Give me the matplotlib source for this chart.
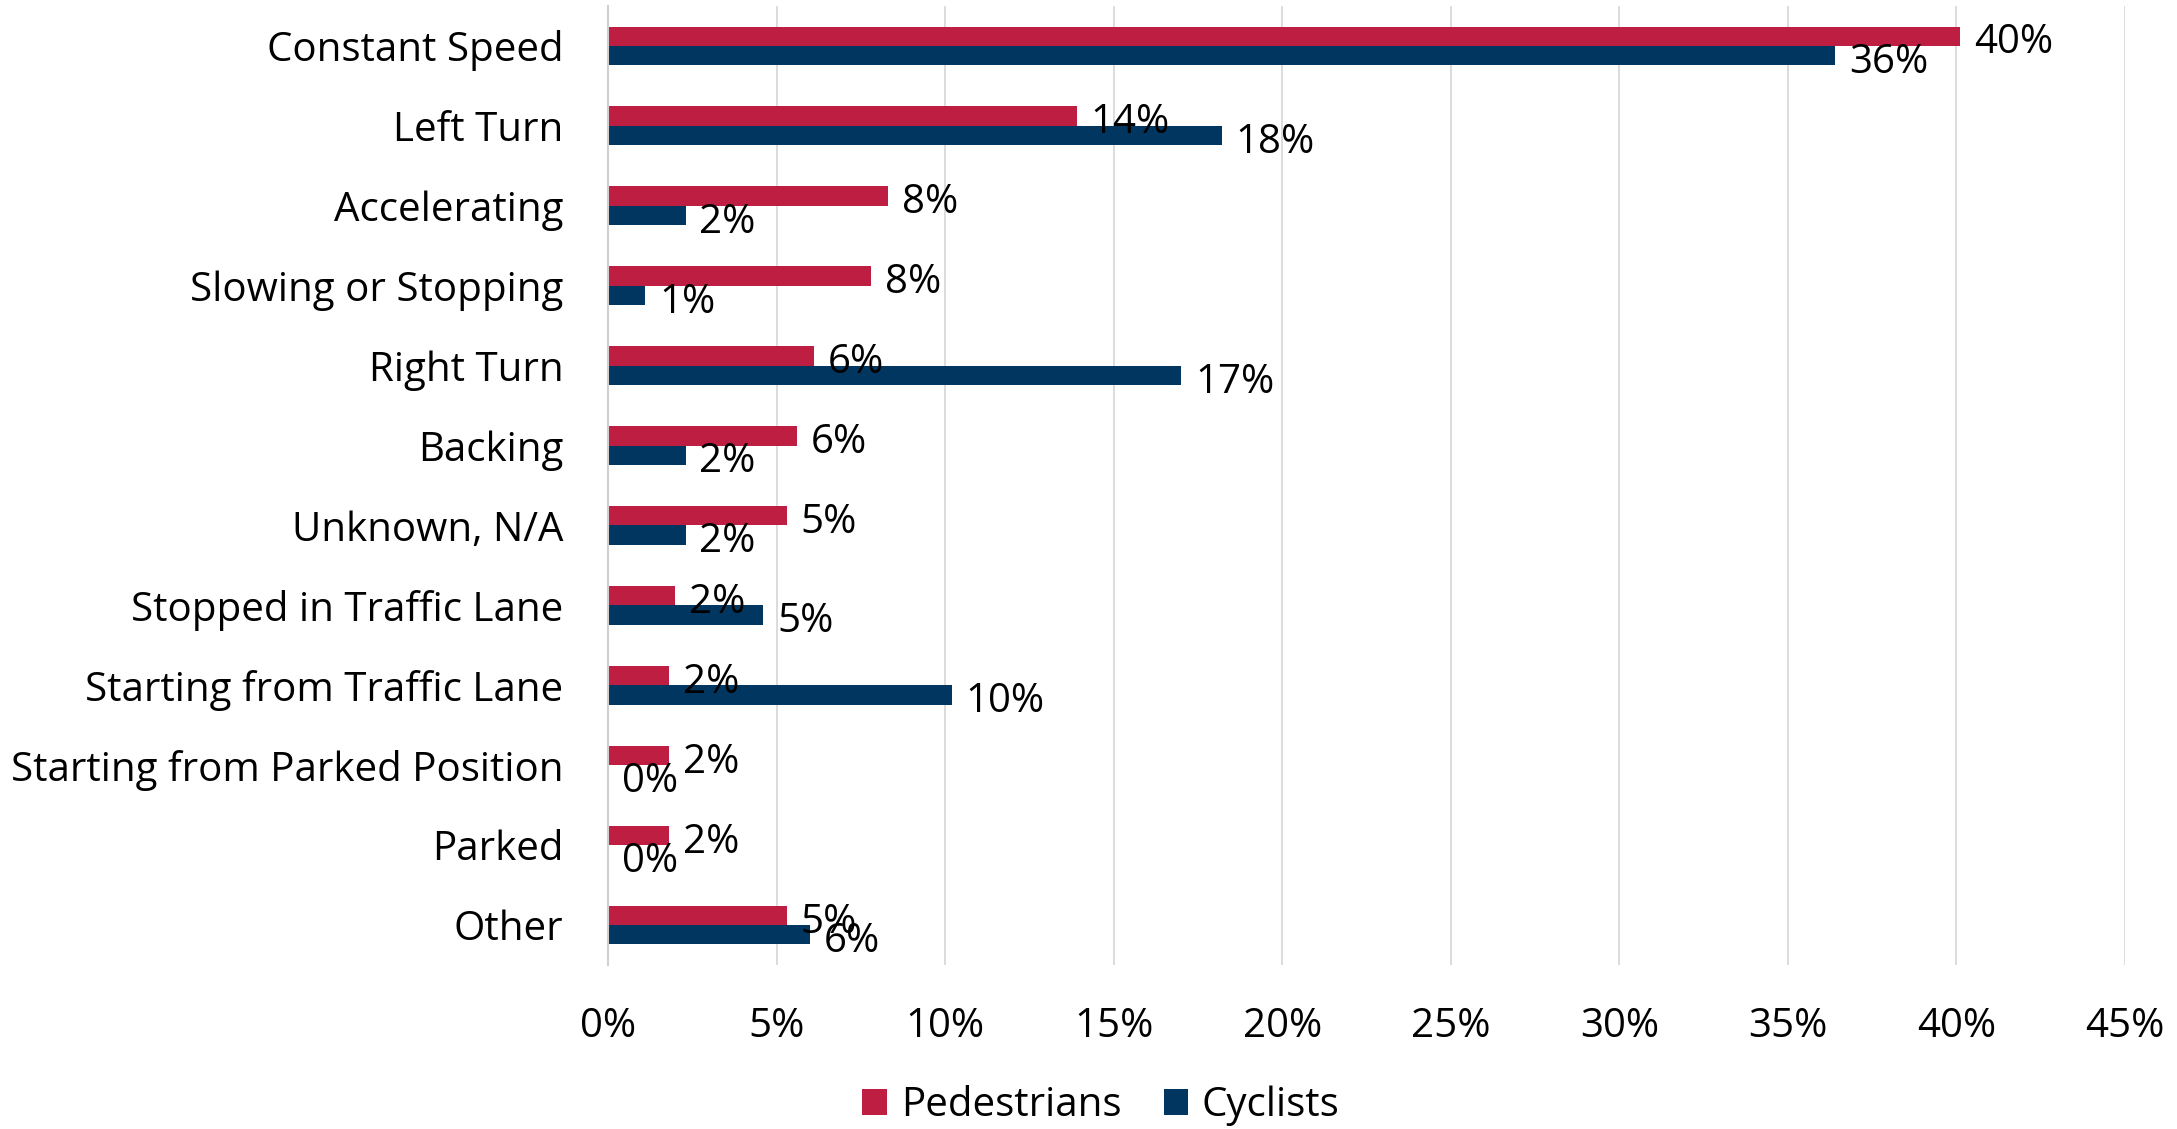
import matplotlib
matplotlib.use("Agg")
import matplotlib.pyplot as plt
import numpy as np
from matplotlib.ticker import PercentFormatter

categories = ["Constant Speed", "Left Turn", "Accelerating", "Slowing or Stopping",
              "Right Turn", "Backing", "Unknown, N/A", "Stopped in Traffic Lane",
              "Starting from Traffic Lane", "Starting from Parked Position", "Parked", "Other"]
pedestrians = [40.1, 13.9, 8.3, 7.8, 6.1, 5.6, 5.3, 2.0, 1.8, 1.8, 1.8, 5.3]
cyclists = [36.4, 18.2, 2.3, 1.1, 17.0, 2.3, 2.3, 4.6, 10.2, 0.0, 0.0, 6.0]
xticks = [0, 5, 10, 15, 20, 25, 30, 35, 40, 45]

RED = "#BE1E41"
NAVY = "#003660"

plt.rcParams['font.family'] = ['Open Sans', 'DejaVu Sans']
FS = 29

fig = plt.figure(figsize=(21.77, 11.29), dpi=100)
ax = fig.add_axes([608/2177, 1 - 965/1129, (2125-608)/2177, (965-6)/1129])

y = np.arange(len(categories))
h = 0.243
b1 = ax.barh(y - h/2, pedestrians, height=h, color=RED, label="Pedestrians", zorder=3)
b2 = ax.barh(y + h/2, cyclists, height=h, color=NAVY, label="Cyclists", zorder=3)

for bars, vals in ((b1, pedestrians), (b2, cyclists)):
    for bar, v in zip(bars, vals):
        ax.annotate(f"{v:.0f}%", xy=(v, bar.get_y() + bar.get_height()/2),
                    xytext=(10, -5), textcoords="offset points",
                    ha="left", va="center", fontsize=FS, color="#000000", zorder=4)

ax.set_ylim(len(categories) - 0.5, -0.5)
ax.set_xlim(0, 45)
ax.set_xticks(xticks)
ax.xaxis.set_major_formatter(PercentFormatter(decimals=0))
ax.set_yticks(y)
ax.set_yticklabels(categories)
ax.tick_params(axis="both", length=0, labelsize=FS, colors="#000000")
ax.tick_params(axis="x", pad=30)
ax.tick_params(axis="y", pad=32)
ax.grid(axis="x", color="#D9D9D9", linewidth=1.3, zorder=0)
ax.set_axisbelow(True)
for s in ["top", "right", "bottom"]:
    ax.spines[s].set_visible(False)
ax.spines["left"].set_color("#D0D0D0")
ax.spines["left"].set_linewidth(1.5)
ax.spines["left"].set_zorder(5)

fig.legend(handles=[b1, b2], labels=["Pedestrians", "Cyclists"], loc="center",
           bbox_to_anchor=(1101/2177, 1 - 1106/1129), ncol=2, frameon=False,
           fontsize=FS, handlelength=0.6, handleheight=0.6, handletextpad=0.35,
           columnspacing=1.05, borderaxespad=0, borderpad=0)

fig.savefig("out.png", dpi=100)
